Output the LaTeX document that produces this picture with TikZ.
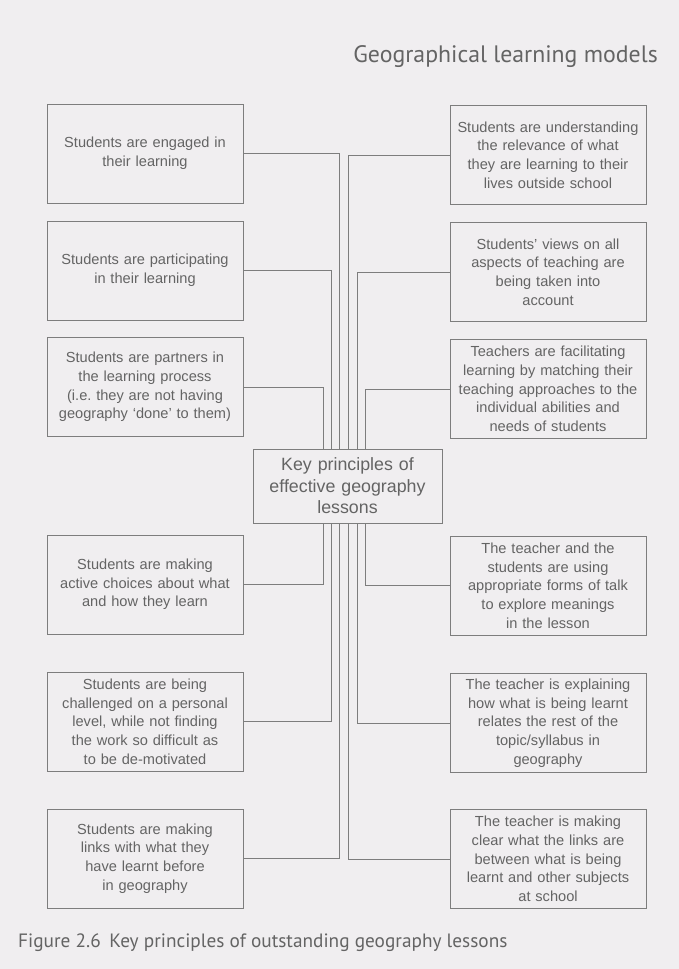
\documentclass[tikz,border=0pt]{standalone}
\usepackage{fontspec}
\setmainfont{Liberation Sans}
\newfontfamily\headfont{PT Sans}
\definecolor{paper}{RGB}{240,238,240}
\definecolor{ink}{RGB}{100,100,100}
\definecolor{rule}{RGB}{125,125,125}

\begin{document}
\begin{tikzpicture}[x=1pt, y=-1pt,
    box/.style={draw=rule, line width=1pt, text=ink, align=center, text width=184pt,
        inner xsep=6pt, minimum height=99pt, font=\fontsize{14.6}{18.7}\selectfont},
    link/.style={draw=rule, line width=1pt}]
            \fill[paper] (0, 0) rectangle (679, 969);
            \useasboundingbox (0, 0) rectangle (679, 969);

            \node (title) [anchor=east, inner sep=0, text=ink, font=\headfont\fontsize{23.8}{28}\selectfont] at (658, 57) {Geographical learning models};

            \node (l1) [box] at (145, 153.5) {Students are engaged in\\their learning};
            \node (l2) [box] at (145, 270.5) {Students are participating\\in their learning};
            \node (l3) [box] at (145, 387) {Students are partners in\\the learning process\\(i.e.\ they are not having\\geography `done' to them)};
            \node (l4) [box] at (145, 584.5) {Students are making\\active choices about what\\and how they learn};
            \node (l5) [box] at (145, 721.5) {Students are being\\challenged on a personal\\level, while not finding\\the work so difficult as\\to be de-motivated};
            \node (l6) [box] at (145, 858.5) {Students are making\\links with what they\\have learnt before\\in geography};

            \node (r1) [box] at (548, 155) {Students are understanding\\the relevance of what\\they are learning to their\\lives outside school};
            \node (r2) [box] at (548, 272) {Students' views on all\\aspects of teaching are\\being taken into\\account};
            \node (r3) [box] at (548, 389) {Teachers are facilitating\\learning by matching their\\teaching approaches to the\\individual abilities and\\needs of students};
            \node (r4) [box] at (548, 585.5) {The teacher and the\\students are using\\appropriate forms of talk\\to explore meanings\\in the lesson};
            \node (r5) [box] at (548, 723) {The teacher is explaining\\how what is being learnt\\relates the rest of the\\topic/syllabus in\\geography};
            \node (r6) [box] at (548, 859) {The teacher is making\\clear what the links are\\between what is being\\learnt and other subjects\\at school};

            \node (key) [box, text width=177pt, minimum height=74pt, font=\fontsize{17.8}{21.5}\selectfont] at (347.5, 486) {Key principles of\\effective geography\\lessons};

            \coordinate (b1) at (323, 0);
            \coordinate (b2) at (331.4, 0);
            \coordinate (b3) at (339.8, 0);
            \coordinate (b4) at (348.6, 0);
            \coordinate (b5) at (357, 0);
            \coordinate (b6) at (365, 0);

            \draw[link] (l1.east) -| (b3 |- key.north);
            \draw[link] (l2.east) -| (b2 |- key.north);
            \draw[link] (l3.east) -| (b1 |- key.north);
            \draw[link] (r1.west) -| (b4 |- key.north);
            \draw[link] (r2.west) -| (b5 |- key.north);
            \draw[link] (r3.west) -| (b6 |- key.north);
            \draw[link] (l4.east) -| (b1 |- key.south);
            \draw[link] (l5.east) -| (b2 |- key.south);
            \draw[link] (l6.east) -| (b3 |- key.south);
            \draw[link] (r4.west) -| (b6 |- key.south);
            \draw[link] (r5.west) -| (b5 |- key.south);
            \draw[link] (r6.west) -| (b4 |- key.south);

            \node (caption) [anchor=west, inner sep=0, text=ink, font=\headfont\fontsize{19.3}{22}\selectfont] at (18, 943) {Figure 2.6\hspace{0.45em}Key principles of outstanding geography lessons};
        \end{tikzpicture}
\end{document}
